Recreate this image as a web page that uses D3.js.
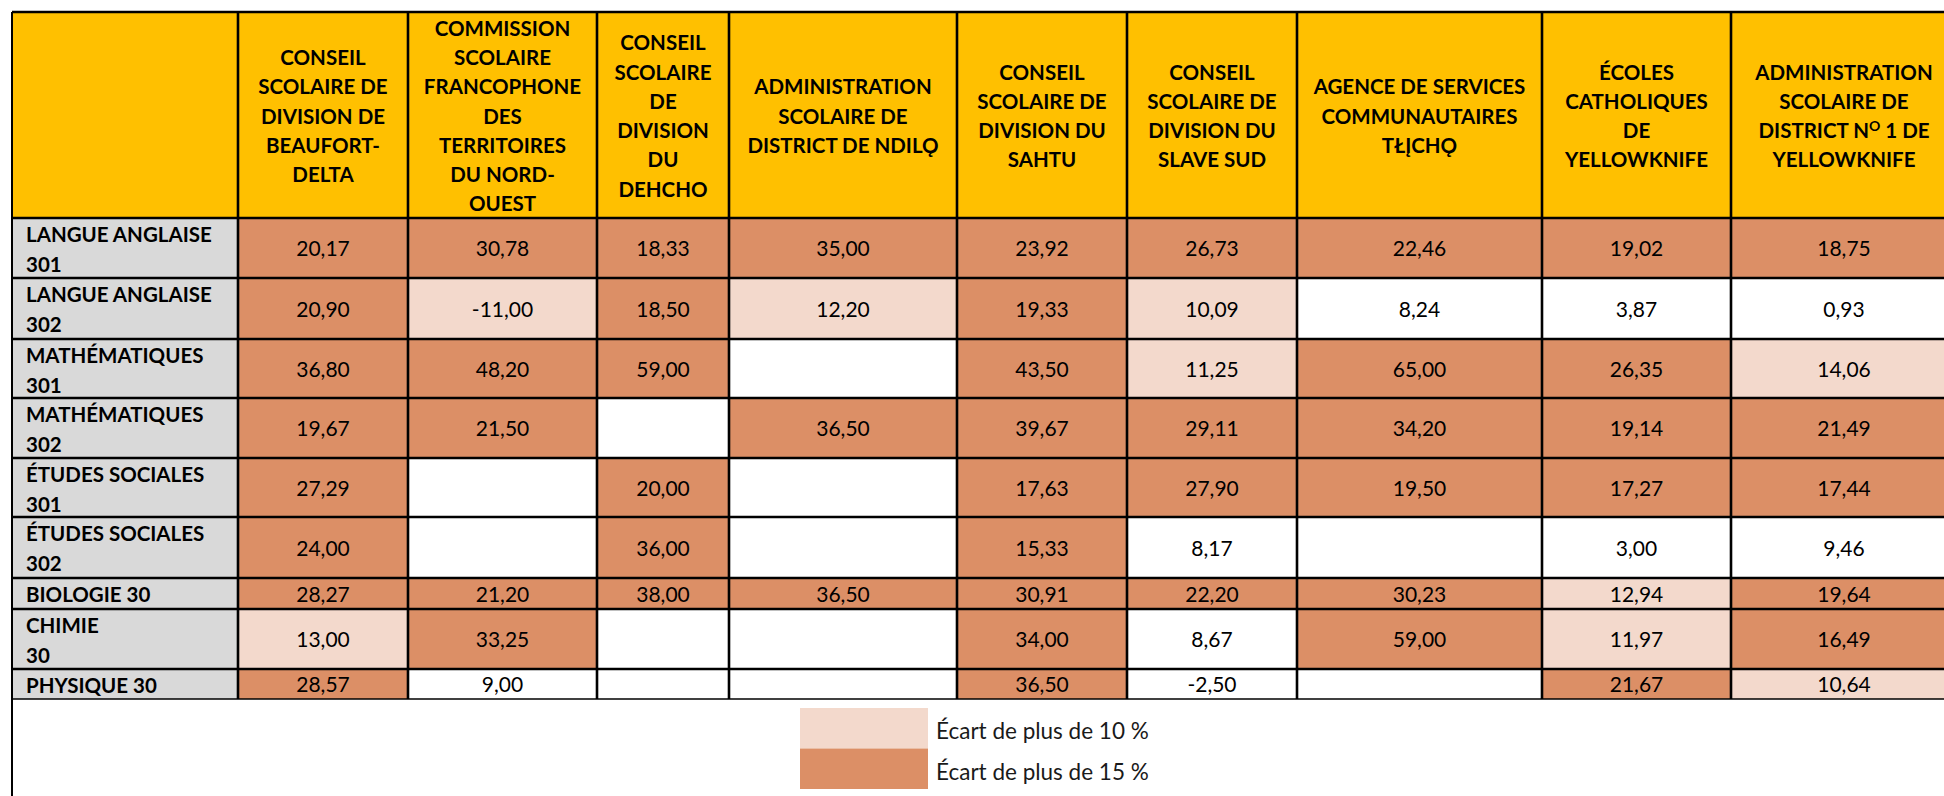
<!DOCTYPE html>
<html>
<head>
<meta charset="utf-8">
<script src="https://cdn.jsdelivr.net/npm/d3@7"></script>
<style>
  body { margin: 0; background: #fff; }
  svg { display: block; }
</style>
</head>
<body>
<div id="chart"></div>
<script>
// Column headers (line breaks as in the original, ^ marks a superscript letter)
const boards = [
  'CONSEIL\nSCOLAIRE DE\nDIVISION DE\nBEAUFORT-\nDELTA',
  'COMMISSION\nSCOLAIRE\nFRANCOPHONE\nDES\nTERRITOIRES\nDU NORD-\nOUEST',
  'CONSEIL\nSCOLAIRE\nDE\nDIVISION\nDU\nDEHCHO',
  'ADMINISTRATION\nSCOLAIRE DE\nDISTRICT DE NDILǪ',
  'CONSEIL\nSCOLAIRE DE\nDIVISION DU\nSAHTU',
  'CONSEIL\nSCOLAIRE DE\nDIVISION DU\nSLAVE SUD',
  'AGENCE DE SERVICES\nCOMMUNAUTAIRES\nTŁĮCHǪ',
  'ÉCOLES\nCATHOLIQUES\nDE\nYELLOWKNIFE',
  'ADMINISTRATION\nSCOLAIRE DE\nDISTRICT N^O 1 DE\nYELLOWKNIFE'
];

const courses = [
  'LANGUE ANGLAISE\n301',
  'LANGUE ANGLAISE\n302',
  'MATHÉMATIQUES\n301',
  'MATHÉMATIQUES\n302',
  'ÉTUDES SOCIALES\n301',
  'ÉTUDES SOCIALES\n302',
  'BIOLOGIE 30',
  'CHIMIE\n30',
  'PHYSIQUE 30'
];

// gap per course (rows) and board (columns); null = no value
const gaps = [
  [20.17, 30.78, 18.33, 35.00, 23.92, 26.73, 22.46, 19.02, 18.75],
  [20.90, -11.00, 18.50, 12.20, 19.33, 10.09, 8.24, 3.87, 0.93],
  [36.80, 48.20, 59.00, null, 43.50, 11.25, 65.00, 26.35, 14.06],
  [19.67, 21.50, null, 36.50, 39.67, 29.11, 34.20, 19.14, 21.49],
  [27.29, null, 20.00, null, 17.63, 27.90, 19.50, 17.27, 17.44],
  [24.00, null, 36.00, null, 15.33, 8.17, null, 3.00, 9.46],
  [28.27, 21.20, 38.00, 36.50, 30.91, 22.20, 30.23, 12.94, 19.64],
  [13.00, 33.25, null, null, 34.00, 8.67, 59.00, 11.97, 16.49],
  [28.57, 9.00, null, null, 36.50, -2.50, null, 21.67, 10.64]
];

const thresholds = [10, 15];
const legendLabels = ['Écart de plus de 10 %', 'Écart de plus de 15 %'];

// layout
const W = 1944, H = 796;
const colEdges = [12, 238, 408, 597, 729, 957, 1127, 1297, 1542, 1731, 1957];
const rowEdges = [12, 218, 278, 339, 398, 458, 517, 578, 609, 669, 699];
const font = 'Lato, "Open Sans", sans-serif';
const colors = { header: '#FFC000', label: '#D9D9D9', none: '#FFFFFF', light: '#F3D9CC', dark: '#DC8F66' };

const color = d3.scaleThreshold()
  .domain(thresholds)
  .range([colors.none, colors.light, colors.dark]);

const fmt = d3.formatLocale({ decimal: ',', thousands: ' ', grouping: [3], currency: ['', ''], minus: '-' }).format('.2f');

const keys = ['label', ...boards];
const x0 = d3.scaleOrdinal().domain(keys).range(colEdges.slice(0, -1));
const x1 = d3.scaleOrdinal().domain(keys).range(colEdges.slice(1));
const rowKeys = ['header', ...courses];
const y0 = d3.scaleOrdinal().domain(rowKeys).range(rowEdges.slice(0, -1));
const y1 = d3.scaleOrdinal().domain(rowKeys).range(rowEdges.slice(1));

const svg = d3.select('#chart')
  .append('svg')
  .attr('width', W)
  .attr('height', H)
  .style('font-family', font);

svg.append('rect').attr('width', W).attr('height', H).attr('fill', '#fff');

// header row
const head = svg.append('g');
head.selectAll('rect')
  .data(keys)
  .enter()
  .append('rect')
  .attr('x', d => x0(d))
  .attr('y', y0('header'))
  .attr('width', d => x1(d) - x0(d))
  .attr('height', y1('header') - y0('header'))
  .attr('fill', colors.header);

const lh = 29.3;
const hMid = (y0('header') + y1('header')) / 2;
boards.forEach(b => {
  const lines = b.split('\n');
  const cx = (x0(b) + x1(b)) / 2;
  const t = head.append('text')
    .attr('text-anchor', 'middle')
    .style('font-size', '20.5px')
    .style('font-weight', 'bold')
    .attr('fill', '#000');
  lines.forEach((line, i) => {
    const yy = hMid - (lines.length - 1) / 2 * lh + 8.5 + i * lh;
    const parts = line.split('^');
    const ts = t.append('tspan').attr('x', cx).attr('y', yy);
    if (parts.length === 1) {
      ts.text(line);
    } else {
      ts.text(parts[0]);
      t.append('tspan').attr('dy', -7).style('font-size', '14px').text(parts[1][0]);
      t.append('tspan').attr('dy', 7).text(parts[1].slice(1));
    }
  });
});

// course labels
const labels = svg.append('g');
labels.selectAll('rect')
  .data(courses)
  .enter()
  .append('rect')
  .attr('x', x0('label'))
  .attr('y', d => y0(d))
  .attr('width', x1('label') - x0('label'))
  .attr('height', d => y1(d) - y0(d))
  .attr('fill', colors.label);

labels.selectAll('text')
  .data(courses)
  .enter()
  .append('text')
  .style('font-size', '20.5px')
  .style('font-weight', 'bold')
  .attr('fill', '#000')
  .each(function (d) {
    d.split('\n').forEach((line, i) => {
      d3.select(this).append('tspan')
        .attr('x', x0('label') + 14)
        .attr('y', y0(d) + 24 + i * 30)
        .text(line);
    });
  });

// value cells
const cells = [];
courses.forEach((c, i) => boards.forEach((b, j) => cells.push({ course: c, board: b, v: gaps[i][j] })));

const body = svg.append('g');
body.selectAll('rect')
  .data(cells)
  .enter()
  .append('rect')
  .attr('x', d => x0(d.board))
  .attr('y', d => y0(d.course))
  .attr('width', d => x1(d.board) - x0(d.board))
  .attr('height', d => y1(d.course) - y0(d.course))
  .attr('fill', d => d.v == null ? colors.none : color(Math.abs(d.v)));

body.selectAll('text')
  .data(cells.filter(d => d.v != null))
  .enter()
  .append('text')
  .attr('x', d => (x0(d.board) + x1(d.board)) / 2)
  .attr('y', d => (y0(d.course) + y1(d.course)) / 2 + 8)
  .attr('text-anchor', 'middle')
  .style('font-size', '21px')
  .attr('fill', '#000')
  .text(d => fmt(d.v));

// grid lines
const grid = svg.append('g').attr('stroke', '#000');
const bottom = rowEdges[rowEdges.length - 1];
grid.selectAll('.h')
  .data(rowEdges)
  .enter()
  .append('line')
  .attr('x1', colEdges[0])
  .attr('x2', W)
  .attr('y1', d => d)
  .attr('y2', d => d)
  .attr('stroke-width', d => d === bottom ? 1.3 : 2.6);

grid.selectAll('.v')
  .data(colEdges.slice(1, -1))
  .enter()
  .append('line')
  .attr('x1', d => d)
  .attr('x2', d => d)
  .attr('y1', rowEdges[0])
  .attr('y2', bottom)
  .attr('stroke-width', 2.6);

grid.append('line')
  .attr('x1', colEdges[0])
  .attr('x2', colEdges[0])
  .attr('y1', rowEdges[0])
  .attr('y2', H)
  .attr('stroke-width', 2);

// legend
const legend = svg.append('g').attr('transform', 'translate(800,708)');
const swatch = [colors.light, colors.dark];
legend.selectAll('rect')
  .data(legendLabels)
  .enter()
  .append('rect')
  .attr('x', 0)
  .attr('y', (_, i) => i * 40.5)
  .attr('width', 128)
  .attr('height', 40.5)
  .attr('fill', (_, i) => swatch[i]);

legend.selectAll('text')
  .data(legendLabels)
  .enter()
  .append('text')
  .attr('x', 136)
  .attr('y', (_, i) => 31 + i * 41)
  .style('font-size', '22.5px')
  .attr('fill', '#1a1a1a')
  .text(d => d);
</script>
</body>
</html>
